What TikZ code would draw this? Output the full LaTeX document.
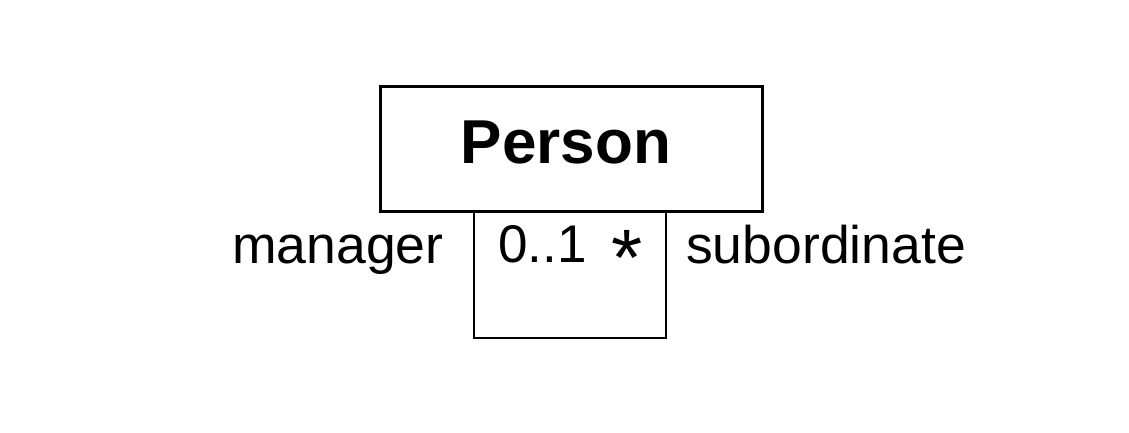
\documentclass[tikz,border=0pt]{standalone}
\usepackage{fontspec}
\setmainfont{Liberation Sans}
\begin{document}
\begin{tikzpicture}[x=1pt,y=-1pt,
  classbox/.style={draw=black,line width=3pt,minimum width=382pt,minimum height=125pt,inner sep=0pt},
  lbl/.style={inner sep=0pt,anchor=base west,font=\fontsize{53}{60}\selectfont},
  assoc/.style={draw=black,line width=2pt}]
\useasboundingbox[fill=white] (0,0) rectangle (1129,432);
\node[classbox] (person) at (571,148.5) {};
\node[inner sep=0pt,anchor=base,font=\fontsize{62}{70}\selectfont\bfseries] (title) at (566,163) {Person};
\coordinate (l) at (474,211);
\coordinate (r) at (666,211);
\coordinate (bl) at (474,338);
\draw[assoc] (l) -- (bl) -| (r);
\node[lbl,xscale=1.01] (mgr) at (232,263) {manager};
\node[lbl] (m1) at (498,262) {0..1};
\node[inner sep=0pt,anchor=base,font=\fontsize{80}{90}\selectfont] (m2) at (627,285) {*};
\node[lbl,xscale=1.01] (sub) at (686,263) {subordinate};
\end{tikzpicture}
\end{document}
